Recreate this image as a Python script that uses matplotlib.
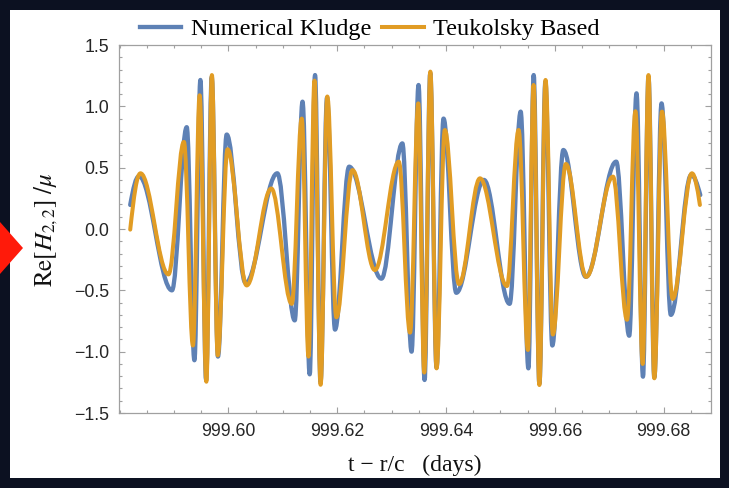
import matplotlib
matplotlib.use("Agg")
import matplotlib.pyplot as plt
from matplotlib.path import Path
from matplotlib.patches import PathPatch, Rectangle, Polygon
from matplotlib.lines import Line2D
from matplotlib.ticker import MultipleLocator, FuncFormatter

plt.rcParams["mathtext.fontset"] = "stix"

# ── THEME ──────────────────────────────────────────────────────────────────────
BG_DARK   = "#0c1121"
PANEL     = "#ffffff"
FRAME     = "#a0a0a0"
TICK_TEXT = "#262626"
NK_BLUE   = "#5e81b5"
TB_ORANGE = "#e19c24"
MARKER    = "#ff1a0a"

# ── DATA: turning points of Re[H_22]/mu (time in days) ─────────────────────────
nk_time = [
    999.58196, 999.58358, 999.58963, 999.59235, 999.59376, 999.59486,
    999.59591, 999.59694, 999.59809, 999.59969, 999.60317, 999.60899,
    999.61220, 999.61363, 999.61495, 999.61593, 999.61694, 999.61813,
    999.61960, 999.62220, 999.62813, 999.63198, 999.63367, 999.63495,
    999.63606, 999.63710, 999.63826, 999.63954, 999.64189, 999.64697,
    999.65169, 999.65372, 999.65514, 999.65611, 999.65716, 999.65826,
    999.65954, 999.66156, 999.66569, 999.67128, 999.67367, 999.67501,
    999.67620, 999.67721, 999.67828, 999.67961, 999.68132, 999.68505,
    999.68673,
]
nk_value = [
    0.196, 0.43, -0.50, 0.83, -1.07, 1.215,
    -1.23, 1.24, -1.04, 0.77, -0.44, 0.454,
    -0.745, 1.038, -1.185, 1.255, -1.25, 1.07,
    -0.82, 0.508, -0.405, 0.698, -1.00, 1.174,
    -1.231, 1.27, -1.13, 0.90, -0.52, 0.40,
    -0.61, 0.957, -1.136, 1.255, -1.26, 1.20,
    -0.95, 0.644, -0.39, 0.549, -0.87, 1.106,
    -1.204, 1.24, -1.21, 1.024, -0.70, 0.44,
    0.277,
]

tb_time = [
    999.58196, 999.58385, 999.58899, 999.59183, 999.59349, 999.59472,
    999.59596, 999.59697, 999.59804, 999.59985, 999.60336, 999.60789,
    999.61165, 999.61349, 999.61473, 999.61583, 999.61695, 999.61818,
    999.61985, 999.62281, 999.62692, 999.63132, 999.63339, 999.63490,
    999.63600, 999.63712, 999.63826, 999.63978, 999.64239, 999.64624,
    999.65119, 999.65334, 999.65505, 999.65609, 999.65716, 999.65829,
    999.65963, 999.66202, 999.66578, 999.67068, 999.67327, 999.67481,
    999.67615, 999.67721, 999.67828, 999.67969, 999.68165, 999.68519,
    999.68666,
]
tb_value = [
    -0.005, 0.454, -0.37, 0.71, -0.95, 1.09,
    -1.245, 1.255, -1.03, 0.65, -0.46, 0.33,
    -0.61, 0.90, -1.04, 1.21, -1.27, 1.08,
    -0.72, 0.48, -0.335, 0.549, -0.845, 1.024,
    -1.17, 1.283, -1.136, 0.807, -0.45, 0.413,
    -0.465, 0.807, -0.986, 1.174, -1.272, 1.215,
    -0.86, 0.53, -0.39, 0.427, -0.74, 0.96,
    -1.10, 1.255, -1.217, 0.957, -0.57, 0.454,
    0.196,
]

x_major = [999.60, 999.62, 999.64, 999.66, 999.68]


def wave_path(t, v, k=0.364):
    """Cubic Bezier through the turning points, flat tangents at each extremum."""
    verts = [(t[0], v[0])]
    codes = [Path.MOVETO]
    last = len(t) - 2
    for i in range(len(t) - 1):
        dt = t[i + 1] - t[i]
        y1 = v[i] + 0.6 * (v[i + 1] - v[i]) if i == 0 else v[i]
        y2 = v[i + 1] + 0.6 * (v[i] - v[i + 1]) if i == last else v[i + 1]
        verts += [(t[i] + k * dt, y1), (t[i + 1] - k * dt, y2), (t[i + 1], v[i + 1])]
        codes += [Path.CURVE4] * 3
    return Path(verts, codes)


fig = plt.figure(figsize=(7.29, 4.88), dpi=100)
fig.patch.set_facecolor(BG_DARK)

W, H = 729.0, 488.0
fig.add_artist(Rectangle((10 / W, 10 / H), 710 / W, 468 / H,
                         transform=fig.transFigure, facecolor=PANEL,
                         edgecolor="none", zorder=0))
fig.add_artist(Polygon([(0, 1 - 222 / H), (23 / W, 1 - 248 / H), (0, 1 - 274 / H)],
                       closed=True, transform=fig.transFigure,
                       facecolor=MARKER, edgecolor="none", zorder=1))

ax = fig.add_axes([119 / W, 1 - 413 / H, 592 / W, 368 / H])
ax.set_facecolor(PANEL)

ax.add_patch(PathPatch(wave_path(nk_time, nk_value), facecolor="none",
                       edgecolor=NK_BLUE, linewidth=3.1, capstyle="round",
                       joinstyle="round", zorder=3))
ax.add_patch(PathPatch(wave_path(tb_time, tb_value), facecolor="none",
                       edgecolor=TB_ORANGE, linewidth=2.9, capstyle="round",
                       joinstyle="round", zorder=4))

ax.set_xlim(999.5799, 999.6887)
ax.set_ylim(-1.5, 1.5)

ax.set_xticks(x_major)
ax.xaxis.set_minor_locator(MultipleLocator(0.005))
ax.yaxis.set_major_locator(MultipleLocator(0.5))
ax.yaxis.set_minor_locator(MultipleLocator(0.1))
ax.xaxis.set_major_formatter(FuncFormatter(lambda x, _: f"{x:.2f}"))
ax.yaxis.set_major_formatter(
    FuncFormatter(lambda y, _: f"{y:.1f}".replace("-", "\u2212")))

for spine in ax.spines.values():
    spine.set_edgecolor(FRAME)
    spine.set_linewidth(0.9)
ax.tick_params(which="both", direction="in", top=True, right=True,
               color=FRAME, width=0.8, labelcolor=TICK_TEXT,
               labelsize=12.8)
ax.tick_params(which="major", length=4.5, pad=7)
ax.tick_params(which="minor", length=2.5)
for lbl in ax.get_xticklabels() + ax.get_yticklabels():
    lbl.set_fontfamily("Liberation Sans")

ax.set_xlabel("t \u2212 r/c   (days)", fontfamily="Liberation Serif",
              fontsize=17, color="#111111", labelpad=11)
ax.set_ylabel(r"$\mathrm{Re}[H_{2,2}]\ /\mu$", fontsize=18,
              color="#111111", labelpad=10)

handles = [
    Line2D([], [], color=NK_BLUE, linewidth=3.1, label="Numerical Kludge"),
    Line2D([], [], color=TB_ORANGE, linewidth=2.9, label="Teukolsky Based"),
]
fig.legend(handles=handles, loc="center", bbox_to_anchor=(370 / W, 1 - 29 / H),
           ncol=2, frameon=False, handlelength=1.7, handletextpad=0.4,
           columnspacing=0.45, prop={"family": "Liberation Serif", "size": 17.5})

fig.savefig("out.png", dpi=100, facecolor=fig.get_facecolor())
